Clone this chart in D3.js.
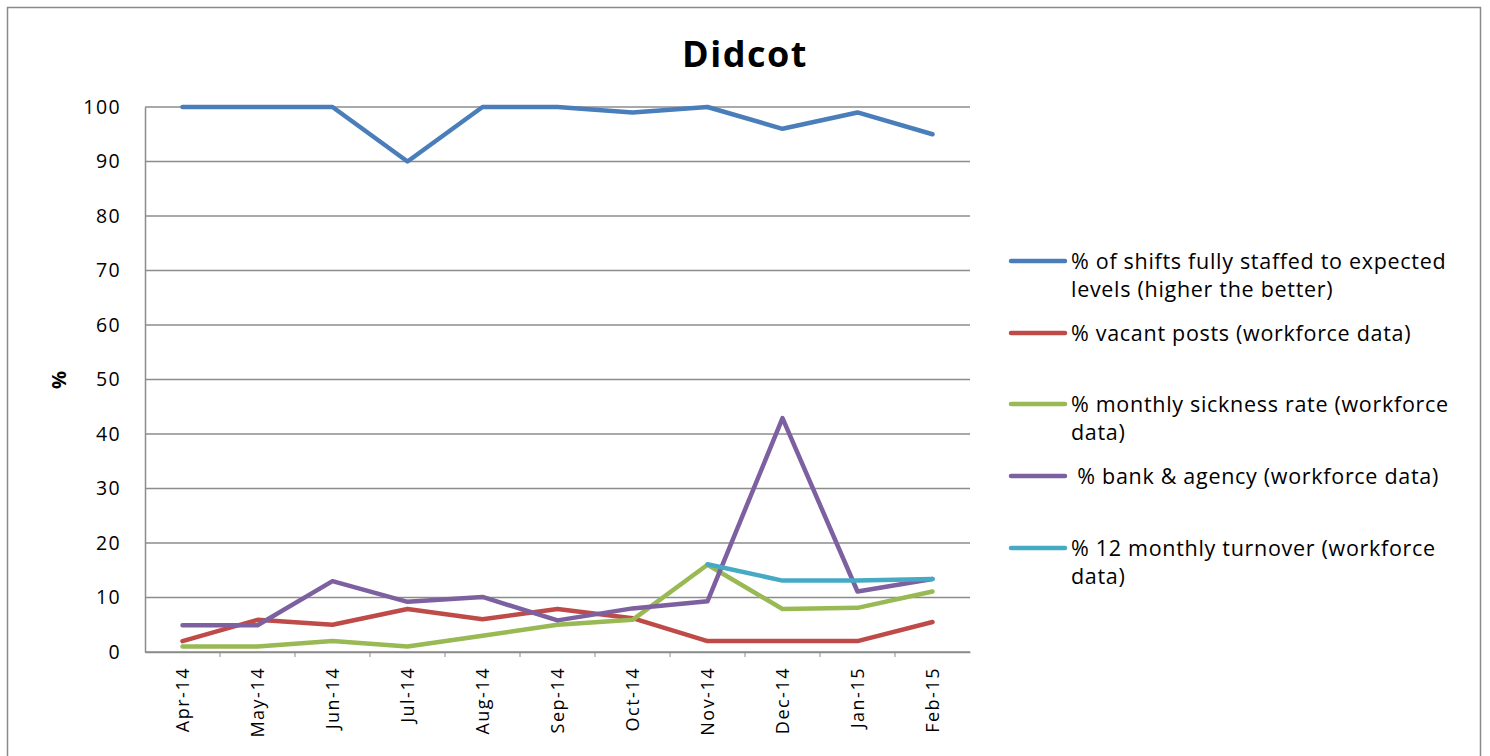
<!DOCTYPE html>
<html>
<head>
<meta charset="utf-8">
<script src="https://cdn.jsdelivr.net/npm/d3@7"></script>
<style>
  html, body { margin: 0; padding: 0; background: #fff; }
  svg { display: block; font-family: "Open Sans", "Liberation Sans", Arial, sans-serif; }
</style>
</head>
<body>
<svg id="chart" width="1490" height="756"></svg>
<script>
// Monthly workforce indicators for Didcot
const months = ["Apr-14","May-14","Jun-14","Jul-14","Aug-14","Sep-14","Oct-14","Nov-14","Dec-14","Jan-15","Feb-15"];
const shiftsStaffed = [100,100,100,90,100,100,99,100,96,99,95];
const vacantPosts   = [2,5.9,5,7.9,6,7.9,6.2,2,2,2,5.5];
const sicknessRate  = [1,1,2,1,3,5,5.9,16,7.9,8.1,11.1];
const bankAgency    = [4.9,4.9,13,9.2,10.1,5.8,8,9.3,42.9,11.1,13.4];
const turnover      = [null,null,null,null,null,null,null,16.1,13.1,13.1,13.4];
const yTicks = [0,10,20,30,40,50,60,70,80,90,100];

const series = [
  { name: ["% of shifts fully staffed to expected", "levels (higher the better)"], values: shiftsStaffed, color: "#4a7ebb" },
  { name: ["% vacant posts (workforce data)"], values: vacantPosts, color: "#be4b48" },
  { name: ["% monthly sickness rate (workforce", "data)"], values: sicknessRate, color: "#98b954" },
  { name: [" % bank & agency (workforce data)"], values: bankAgency, color: "#7d60a0" },
  { name: ["% 12 monthly turnover (workforce", "data)"], values: turnover, color: "#46aac5" }
];

const svg = d3.select("#chart");
const plot = { left: 145, right: 970, top: 107, bottom: 652 };
const FONT = "Open Sans, Liberation Sans, Arial, sans-serif";

// outer chart frame
svg.append("rect")
  .attr("x", 7.5).attr("y", 7.5)
  .attr("width", 1473).attr("height", 760)
  .attr("fill", "#fff").attr("stroke", "#8a8a8a").attr("stroke-width", 1.5);

const x = d3.scaleBand().domain(months).range([plot.left, plot.right]);
const y = d3.scaleLinear().domain([0, 100]).range([plot.bottom, plot.top]);

// horizontal gridlines
svg.append("g")
  .selectAll("line")
  .data(yTicks)
  .join("line")
  .attr("x1", plot.left).attr("x2", plot.right)
  .attr("y1", d => y(d)).attr("y2", d => y(d))
  .attr("stroke", "#8c8c8c").attr("stroke-width", 1.5);

// y axis
const yAxis = svg.append("g")
  .attr("transform", `translate(${plot.left},0)`)
  .call(d3.axisLeft(y).tickValues(yTicks).tickSize(0).tickPadding(24));
yAxis.select(".domain").attr("stroke", "#8c8c8c").attr("stroke-width", 1.5);
yAxis.selectAll("text")
  .attr("font-family", FONT)
  .attr("font-size", 19.5).attr("fill", "#000")
  .attr("letter-spacing", 1.4);

// x axis
const xAxis = svg.append("g")
  .attr("transform", `translate(0,${plot.bottom})`)
  .call(d3.axisBottom(x).tickSize(0).tickPadding(0));
xAxis.select(".domain").attr("stroke", "#8c8c8c").attr("stroke-width", 1.5);
xAxis.selectAll("text")
  .attr("font-family", FONT)
  .attr("font-size", 18).attr("fill", "#000")
  .attr("letter-spacing", 1.5)
  .attr("text-anchor", "end")
  .attr("dy", "0.35em")
  .attr("transform", "translate(0,15) rotate(-90)")
  .attr("x", 0).attr("y", 0);
// small marks between categories
xAxis.append("g")
  .selectAll("line")
  .data(months.slice(1))
  .join("line")
  .attr("x1", d => x(d)).attr("x2", d => x(d))
  .attr("y1", 0).attr("y2", 5)
  .attr("stroke", "#8c8c8c").attr("stroke-width", 1);

// lines
const line = d3.line()
  .defined(d => d.v != null)
  .x(d => x(d.m) + x.bandwidth() / 2)
  .y(d => y(d.v));

svg.append("g")
  .selectAll("path")
  .data(series)
  .join("path")
  .attr("d", s => line(s.values.map((v, i) => ({ m: months[i], v }))))
  .attr("fill", "none")
  .attr("stroke", s => s.color)
  .attr("stroke-width", 4.5)
  .attr("stroke-linejoin", "round")
  .attr("stroke-linecap", "round");

// title
svg.append("text")
  .attr("x", 745).attr("y", 67)
  .attr("text-anchor", "middle")
  .attr("font-family", FONT)
  .attr("font-size", 36).attr("font-weight", "bold")
  .attr("letter-spacing", 1.5)
  .text("Didcot");

// y axis title
svg.append("text")
  .attr("transform", "translate(66,380) rotate(-90)")
  .attr("text-anchor", "middle")
  .attr("font-family", FONT)
  .attr("font-size", 20).attr("font-weight", "bold")
  .text("%");

// legend
const legendY = [261, 333, 404, 476, 548];
const legend = svg.append("g")
  .selectAll("g")
  .data(series)
  .join("g")
  .attr("transform", (d, i) => `translate(1011,${legendY[i]})`);
legend.append("line")
  .attr("x1", 0).attr("x2", 54)
  .attr("y1", 0).attr("y2", 0)
  .attr("stroke", d => d.color).attr("stroke-width", 4.5)
  .attr("stroke-linecap", "round");
legend.append("text")
  .attr("font-family", FONT)
  .attr("font-size", 21.5).attr("fill", "#000")
  .attr("letter-spacing", 0.7)
  .selectAll("tspan")
  .data(d => d.name)
  .join("tspan")
  .attr("x", 60)
  .attr("y", (d, i) => 8 + i * 28)
  .style("white-space", "pre")
  .text(d => d);
</script>
</body>
</html>
